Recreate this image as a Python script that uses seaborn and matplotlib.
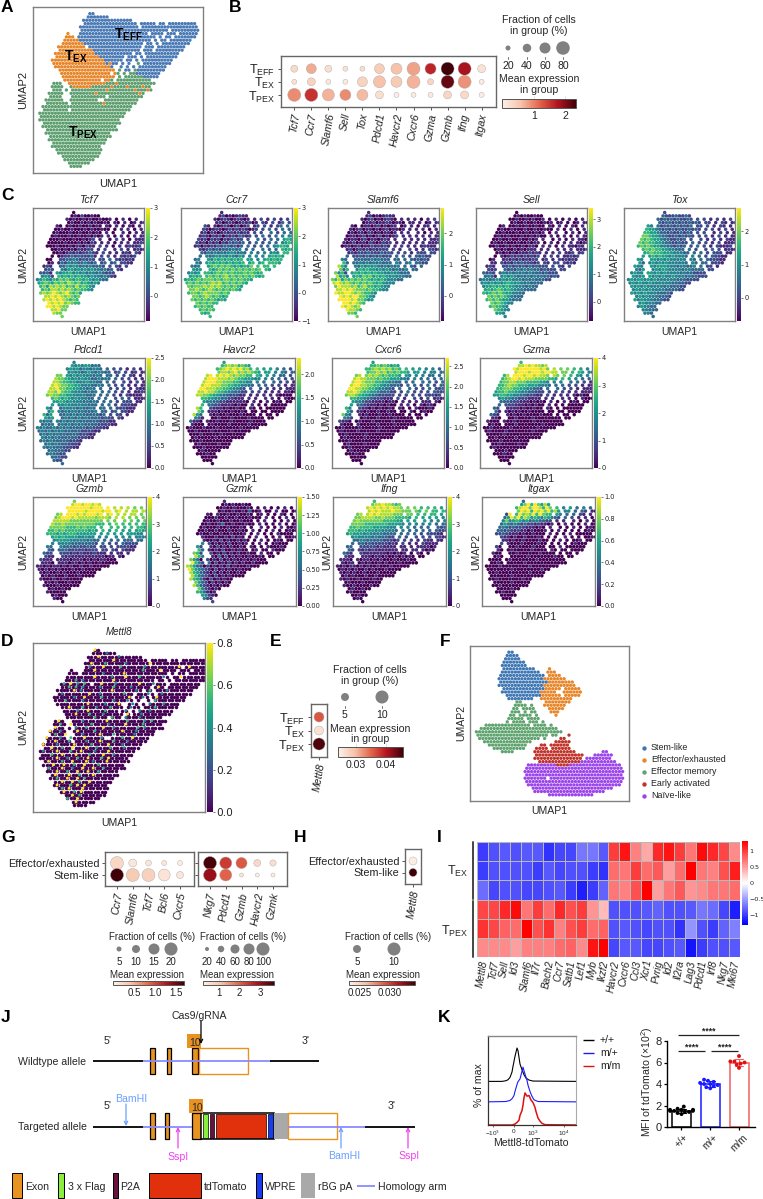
import numpy as np
import pandas as pd
import matplotlib
matplotlib.use("Agg")
import matplotlib.pyplot as plt
from matplotlib.colors import LinearSegmentedColormap, Normalize
from matplotlib.cm import ScalarMappable
from matplotlib.patches import Rectangle
import seaborn as sns

W, H = 763, 1199
sns.set_theme(style="white")
plt.rcParams["font.family"] = ["Liberation Sans", "DejaVu Sans"]
plt.rcParams["mathtext.fontset"] = "custom"
plt.rcParams["mathtext.rm"] = "Liberation Sans"
plt.rcParams["mathtext.it"] = "Liberation Sans:italic"
plt.rcParams["mathtext.bf"] = "Liberation Sans:bold"
plt.rcParams["axes.edgecolor"] = "#707070"

# ---------- embedding maps: each character is one binned group of cells ----------
CLUSTER_MAP = """
                BB
               BBBBBBB
              BBBBBBBBBBBBBBBB
              BBBBBBBBBBBBBBBBB BBBBB BB BBBBBBBBB
             BBBBBBBBBBBBBBBBBBB BBBBBBBBBBBBBBBBBB
             BBBBBBBBBBBBBBBBBBBBBBBBBBBB BBBBBBBBB
         O   BBBBBBBBBBBBBBBBBBBBBB BBBB BBB BBBBBB
        OOO BBBBBBBBBBBBBBBBBBBBBBBBB B BB BBBBBBB
        OOOOOBBBBBBBBBBBBBBBBBBBBBBB B BB BBBBBBB
       OOOOOOOBBBBBBBBBBBBBBBBBBB BB B BBBBBBBBB
      OOOOOOOOO BBBBBBBBBBBBBBBBB BBB BBBBBBBBB
      OOOOOOOOOOOBBBBBBBBBBBBBBB BBB BBBBBBBBB
     OOOOOOOOOOOOOBBBBBBBBBBBB BB BBBBBBBBBBB
     OOOOOOOOOOOOOOBBBBBBBB BBB B BBBBBBBBBB
    OOOOOOOOOOOOOOOOOBBBBBB BB B BBBBBBBBBB
    OOOOOOOOOOOOOOOOOBOBB B B  G BBBBBBBBB
     OOOOOOOOOOOOOOOOOOB  B B B BBBBBBBBB
      OOOOOOOOOOOOOOOOOO G BB GBBBBBBBBB
       OOOOOOOOOOOOOOOO OG G GGBBBBBBBB
       OOOOOOOOOOOOOOOOO G GGGGGGBBBBB
        OOOOOOOOOOOO OOG GGGGGGGGGGG
    GGG  OOOOOOOOOOOOGGGOGGGGGGGGGGGG
    GGGG  GOOOOOOGGGGGGOGGGGOGGGGOGG
    GGG G GGGGGGGGGGGOGGGGGGGGOGGGOG
   GGGGG  GGGGGGGGOGGGGGGGGGGGGGOG
   GGGG   GGGGGGGGGGG GGGGGGGGGGG
  GGGGGG  GGGGGGGGG  GGGGGGGGGGG
  GGGGGGG GGGGGGGGGGOGGGGGGGGGG
 GGGGGGGGGGGGGGGGGGGGGGGGGGGGG
 GGGGGGGG GGGGGGGGGGGGGGGGGGG
GGGGGGGGGGGGGGGGGGGGGGGGGGGG
GGGGGGGGGGGGGGGGGGGGGGGGGGG
GGGGGGGGGGGGGGGGGGGGGGGGGG
 GGGGGGGGGGGGGGGGGGGGGGGGG
 GGGGGGGGGGGGGGGGGGGGGGGG
  GGGGGGGGGGGGGGGGGGGGGGG
  GGGGGGGGGGGGGGGGGGGGG
   GGGGGGGGGGGGGGGGGGGG
   GGGGGGGGGGGGGGGGGGG
    GGGGGGGGGGGGGGGGG
    GGGGGGGGGGGGGGGG
     GGGGGGGGGGGGGGG
      GGGGGGGGGGGGGG
       GGGGGGGGGGGG
        GGGGGGGGGG
         GGGGGGG
          GGGG
""".strip("\n").split("\n")

METTL8_SPECKS = """
                9
                   4
                 9     4
                     9
               9   6     4      9
              4   9    6      4         9  9
                9             6    9
                  4     9
                9    4   9   6      4    9
          6 4        9
       6 9 4 6    9   4      9   4
        6 6 4    4   6    4       9
          9 4        9      4   6    4
      4       9  4      6      4   4
          4  9    6       9   4   9
       6    4        4   4       6
              9    4   9   4    4   4
        9   6   4   6     4      6
           4  9    6     4   4  4
          9   6   4      9   4
                6    6   4   4
     9      4      9     6    4 6
      6  9     6    4    9    6
    9     4  6    9  4      6 4
   9  4    9    6       9   4
    6  9    4    9   6     4
  9   4  6   9    4     6  9
    9   6    4   9   6   4
 9   4    9    6    9   4
   9  6  9   9  4   6   4
 4   9   6  9   4   9
   6  9   9   6   9  4
     9  4  6  9   6 9
  9   6  9   9 4   9
    9  9  6  9   6
  6   9  4  9  9  6
     9  6  9  9  6
    9   9  6   9
     6  9  9 6
      9  9 6  9
     9   6 9 9
      6 9   9
       9  6 9
         9 6
        6  9
          9
""".strip("\n").split("\n")

SUBSET_MAP = """

          BB
         BBBB
         BBBBB
        BBBBBBB
        BBBBBBBB
        BBBBBBBBBB    O
        BBBBBBBBBBBB  OOO
       BBBBBBBBBBBBBB OOOO
       BBBBBBBBBBBBBBOOOOOOO
       BBBBBBBBBBBBBBBOOOOOOOO
       BBBBBBBBBBBBBBOOOOOOOOOO
        BBBBBBBBBBBBBOOOOO OOOOO
        BBBBBBBBBBBBOOOOO  OOOOOO
         BBBBBBBBBBBOOOOOO OOOOO
          BBBBBBBB  OOOOOOOOOO
            GG       OOOOOOOO
            GGGG G   OOOOOOO
           GG GGGG    OOOOO
           GGG G GG    OOO
          GG GGGG G     O
          GGGGG GGGG
         G GGGG GGG G
   GGGGGGGGGGGGGG GGGG G
 GGGGGGGGGGGGGGGGGGGGGGGG
GGGGGGGGGGGGGGGGGGGGGGGGGGG
GGGGGGGGGGGGGGGGGGGGGG GG   R
 GGGGGGGGGGGGGGGGGGG G    RR
  GGGGGGGGGGGGGGG       RRRRR
    GGGGGGGGGGGG    RR RRRRRR
     GGGGGGGGGG   RRRR RRRRRR
        GGGG      RRRRRRRRRRRRR        PP
                  RRRRRRRRRRRRRRR   PPPPPP
                  RRRRRRRRRRRRRRR PPPPPPPP
                   RRRRRRRRRRRRRPPPPPPPPPPP
                PPPPPPPPPRRRRPPPPPPPPPPPPPPPP
               PPPPPPPPPPPPPPPPPPPPPPPPPPPPPP
               PPPPPPPPPPPPPPPPPPPPPPPPPPPPPPP
               PPPPPPPPPPPPPPPPPPPPPPPPPPPPPP
               PPPPPPP PPPPPPPPPPPPPPPPPPPPPPP
               PPPPPPPPPPPPPPPPPPPPPPPPPPPPPP
                PPPPPPPPPPPPPPPPPPPPPPPPPPPPP
                 PPPPPPPPPPPPPPPPPPPPPPPPP
                  PPPPPPPPPPPPPPPPPPPPPP
                      PPPPPPPPPPPPPP
""".strip("\n").split("\n")

TCF7 = """
           0
          010200100
         10100101001001 0 1 0 1
         0100101010010 10 1 01 1102
      10 01001001010 10 1 0 10 1 11
     00100100010100100 0 1 1 0 1 121
     010001001001010 1 0  1 0 1 1211
    0100010010010101 1 0 1 0 1 11211
    00010001001012 1  0 2 1 0 11121
   000001000101021 1 1 0 1 1 11211
   000100010110211 2 1 0 1 12112
    0010101021122 1 2  1 2 1 1211
     00101212122321 2 1 1 121 21
    0 012232322231 2 2 1 21212
   00  22334323232 22 3 212121
   01 132434334323 23 23 2211
  121  33545434343332 2 21 2
  232  4355454545443423 21
 3231 545564545344343222
 4542 656565655454434321
4565465767656656545433
5676576768767565454
 67587878676867654
 6768878787676654
 7878987897675
  88989878767
  89898987676
   9898978766
   9989877
    88977
     877
       7
""".strip("\n").split("\n")

CCR7 = """
           1
          120101211
         10121012101 1 2 1 2 1 2
         1201210121201 21 2 13 2 3445
      21 10121012012 12 2 1 23 3 45
     21012101212121012 2 3 2 3 3 456
     120210121212121 2 2  3 2 3 3566
    1210212021213212 2 3 2 3 4 45656
    21202120212312 2  3 2 3 3 56565
   212021202132323 2 3 2 3 3 45656
   120212132332313 3 2 3 3 45665
    2123232333434 3 3  3 3 3 6565
     32434343454343 4 3 4 454 66
    3 434545454354 4 4 4 56565
   34  54656565656 55 4 565656
   43 565656565656 56 56 6665
  434  56767676565657 6 66 6
  545  6567676767676767 65
 4545 665676767666767656
 5656 676767867676767656
565676777676776767665
6767676787867676765
 76777878787676765
 7787678767676765
 6776787777676
  77678767656
  76767676565
   7676766
   676766
    67676
     656
       6
""".strip("\n").split("\n")

SLAMF6 = """
           1
          120101211
         10120101210 1 1 1 0 1 2
         0112011210110 11 1 01 1111
      10 01101201011 01 1 0 11 1 11
     10120110101201101 1 1 1 0 1 101
     010110210101101 1 1  1 0 1 1111
    0110120101201012 1 1 1 1 1 11121
    10110120110121 1  1 1 1 1 11211
   101201102101212 1 1 1 1 1 11121
   011012011212121 1 2 1 1 12111
    1201212121222 2 1  2 1 1 2212
     12122232223232 2 2 1 222 22
    3 223232323222 3 3 2 32322
   43  33333434333 33 3 323232
   63 334343434333 43 34 3322
  864  43545454343434 3 32 3
  736  4656554545434334 33
 7462 565656565544544333
 8564 565767565654544433
7685767676765656544433
8987876767676565444
 79888786786656544
 8898987776766544
 9889987876654
  98989977654
  99998977645
   9989876
   989878
    98876
     776
       7
""".strip("\n").split("\n")

SELL = """
           0
          010100100
         00100101001 0 1 0 1 0 1
         0100100100101 01 0 01 1012
      01 00100100100 10 1 0 10 1 11
     01001000100100100 1 0 1 0 1 102
     001000100100101 0 1  0 1 0 1101
    0100100010010100 1 0 1 0 1 10112
    00100100100101 1  0 1 0 1 11021
   010010001001011 0 1 0 1 1 10112
   001001010010110 1 1 0 1 11021
    0101001010111 1 1  1 1 1 1112
     01010101112121 1 1 2 112 12
    0 101212121212 1 2 1 11212
   01  12121212122 12 1 212121
   11 212132322212 21 22 2121
  121  22323232323222 2 21 2
  212  3232434343323222 22
 3232 343434343433323222
 3431 454543434343433232
3443454545444343433322
4545454565454343333
 45565656554443433
 5656765654443333
 6567676554433
  76767654333
  67676554343
   7676544
   676654
    76544
     554
       4
""".strip("\n").split("\n")

TOX = """
           2
          322232232
         32323232232 2 2 1 2 1 2
         3233232323232 22 1 21 1211
      54 32323232323 22 2 1 21 1 21
     65543232323223232 2 2 1 2 1 112
     665543323223232 2 2  1 2 1 1211
    7765543322323232 2 2 1 2 1 11211
    76765543322323 2  2 1 2 1 21111
   767665543322322 3 2 2 1 2 11121
   676765544332323 2 3 2 1 21112
    6767665544333 3 2  2 3 2 1211
     56766655544433 3 3 2 222 11
    5 565655454443 4 3 2 32211
   54  55454544444 43 3 322211
   53 454545444443 43 33 2221
  544  54555444344334 3 22 1
  435  4545544443443333 22
 4544 554545444434332222
 5445 545454454443433222
4545545454444443332222
4545445444444333322
 54545444443433322
 4545454444333322
 5454544433332
  45454443332
  54544433322
   4544433
   454433
    44333
     443
       3
""".strip("\n").split("\n")

PDCD1 = """
           4
          545455343
         45453443443 3 2 2 1 2 1
         4544345434433 23 2 12 1211
      77 54545444343 33 2 2 21 1 21
     87765454544334343 3 2 2 1 1 212
     887665544454433 3 2  2 1 2 1111
    8987766554443343 3 2 2 1 1 11211
    88977665544343 3  2 2 2 1 21111
   887976654443434 3 3 2 2 1 11211
   787766554444333 3 3 2 1 21111
    6765654544433 3 3  2 3 2 1111
     55654544434343 3 3 2 222 11
    5 445444444333 3 3 2 22211
   53  34444343343 33 3 222111
   46 434344343334 33 23 2211
  635  33434343333323 2 22 1
  545  3434343433332322 21
 4343 434343433333322211
 3434 343434343333222211
4343343434333332322211
3434343433333222211
 34343433333322211
 4343433333322211
 3434333332221
  34343332221
  43433322211
   3433322
   343322
    33322
     322
       3
""".strip("\n").split("\n")

HAVCR2 = """
           5
          678786765
         67898989786 6 5 5 4 3 2
         7887897878765 55 4 43 3221
      89 89898787766 65 5 4 33 2 21
     89998887876655544 4 3 3 2 2 111
     899988777665544 4 3  3 2 2 1111
    8998887766554433 3 3 2 2 1 11111
    99888776654432 3  2 2 1 1 11100
   889887665443322 2 2 1 1 1 11000
   887765543322211 1 1 1 1 10000
    6655443322111 1 1  1 1 0 1000
     54433221111110 1 0 1 010 00
    6 332211110100 1 0 0 00000
   86  21110100100 10 0 000000
   75 111010010010 00 00 0000
  853  10100100010000 0 00 0
  431  0010001000010000 00
 3110 100100010000010000
 1000 010000100000100000
0100010001000000100000
0010000100000100000
 00010000010000000
 0100000100000000
 0001000000000
  01000001000
  00010000000
   0100000
   000100
    00000
     000
       0
""".strip("\n").split("\n")

CXCR6 = """
           5
          667676565
         66787878676 6 5 5 4 4 3
         6778786767665 55 4 44 3433
      78 78787676665 54 4 4 33 3 33
     89887776766555443 4 3 3 3 3 323
     899877766554433 3 3  3 3 2 3322
    8998877665443332 3 3 2 3 2 32232
    99887766544332 3  3 2 2 3 22322
   889876655433322 2 3 2 2 2 32222
   788765543322222 2 2 2 2 22212
    6655433222111 2 1  2 1 2 1211
     54432211110110 1 1 1 111 10
    5 332111010100 1 1 0 10110
   64  21101010010 10 0 100010
   53 110100100100 00 10 0100
  743  10100010010000 0 00 0
  432  0100010000100000 00
 2110 010001000001000000
 1000 100000100001000000
0010000100000100000000
0100001000001000000
 00100000100000000
 0100000100000000
 0001000000000
  01000010000
  00100000000
   0100000
   000100
    00000
     000
       0
""".strip("\n").split("\n")

GZMA = """
           6
          889898878
         98999999897 8 7 7 6 5 4
         8999899989988 77 6 65 4332
      68 99989989887 87 7 6 54 4 32
     67899898887777665 6 5 4 3 3 221
     677887776666554 4 4  3 3 2 1211
    6678776665554443 3 3 2 2 1 11111
    66777665544332 3  3 2 2 1 11110
   566766554433222 2 2 2 1 1 11100
   556655443322211 2 1 1 1 10100
    4544332221111 1 1  1 1 0 1000
     33322211101010 1 0 1 010 00
    3 222111010100 1 0 0 00000
   32  11110100100 10 0 000000
   31 101010010000 00 00 0000
  321  10100100001000 0 00 0
  110  0010000100000000 00
 1000 100100000100000000
 0100 000100000001000000
0010000010000000100000
0100001000000010000
 00000100000000000
 0010000010000000
 0000100000000
  00100000100
  01000000000
   0001000
   000100
    00000
     000
       0
""".strip("\n").split("\n")

GZMB = """
           7
          899899898
         99999998999 9 8 8 8 7 7
         9999989999899 89 8 88 8877
      78 99989899989 89 8 8 88 7 77
     78999898888878887 8 8 7 7 7 777
     888887777777777 7 7  7 7 6 7766
    8778777777777666 6 7 6 6 6 66666
    77777666767666 6  6 6 6 6 66565
   667676666666565 6 5 6 5 5 56555
   666565666555555 5 5 5 5 55544
    5656555544544 4 4  4 4 4 4443
     45555444443433 3 3 3 333 33
    4 444433333332 3 2 2 32222
   43  43332322322 22 2 222211
   32 333222221222 22 21 2111
  322  22212121112111 1 11 1
  211  2121111111111011 10
 2111 111101110101011000
 1110 111011010100100000
1101011010100100100000
1010101000100100000
 10100101000100000
 0101000100010000
 1000100100000
  01010001000
  10001000000
   0100100
   100000
    01000
     100
       0
""".strip("\n").split("\n")

GZMK = """
           1
          010100100
         00100100010 0 1 0 0 1 0
         0100100103001 00 1 00 0100
      10 10010010010 01 0 0 10 0 10
     00010010010001000 1 0 0 1 0 010
     010010001001000 0 1  0 0 1 0001
    0010013001000100 1 0 0 1 0 01000
    01000100100010 0  1 0 0 1 00100
   001001000100100 1 0 0 1 0 01000
   010010010010001 0 1 0 0 10000
    1000100102010 0 1  0 0 1 0010
     10010201001010 0 1 0 010 00
    4 201010200101 0 1 0 01000
   52  10201010010 10 0 100010
   63 101020010100 01 00 1000
  762  20102010100100 1 00 0
  864  1030201010010010 00
 7530 201020101001001000
 9642 302010201010010000
8753202010102010001000
9754321020101001000
 86532102010100100
 8643210201010000
 8653102010100
  75320201010
  86321010100
   7421010
   653101
    54210
     421
       2
""".strip("\n").split("\n")

IFNG = """
           6
          788988767
         89898989887 7 7 6 6 6 5
         8989888988777 76 7 66 6655
      78 89898888777 77 6 6 66 5 54
     77888877877766665 6 5 5 5 4 443
     787777777666655 5 5  5 4 4 4433
    7777666666655554 4 4 4 4 3 33322
    66766665555444 4 4 3 3 3  32322
   666565554544443 4 3 3 3 3 32222
   565554544443333 3 3 3 2 22211
    4544443433322 3 2  2 2 2 2211
     33443333322212 2 2 1 211 11
    3 332322222121 2 1 1 21111
   33  22222121111 11 1 111101
   32 212121111111 11 11 1010
  321  21111111010101 0 10 0
  211  1110110100101010 00
 1110 101101010001000100
 1011 010100101000100000
1010110101001000100000
0101010010100010000
 10101001000100000
 0101000100100000
 1010010000100
  01000100000
  10010000100
   0100100
   010000
    00100
     010
       0
""".strip("\n").split("\n")

ITGAX = """
           3
          579697585
         68997998697 6 4 5 3 4 3
         7989698979685 44 3 32 1012
      29 69787969766 54 3 3 21 1 10
     35979687565465432 3 2 1 1 0 101
     474565453443322 1 1  1 0 1 0100
    3543432322121101 0 1 0 0 1 00101
    34323222111010 1  0 0 1 0 01000
   332321211010001 0 1 0 0 0 01000
   223211101001000 1 0 0 1 00000
    2110100100010 0 0  1 0 0 0010
     11010010000100 0 1 0 001 00
    2 100010000100 0 0 0 01000
   20  00100001000 00 1 000000
   10 010000010000 10 00 0000
  100  00100000010000 0 00 0
  010  0000010000000100 00
 0000 010000000100000000
 0010 000001000000000000
0000100000000100000000
0000000100000000100
 00100000000010000
 0000001000000000
 0010000000100
  00000100000
  00100000000
   0000100
   001000
    00000
     000
       0
""".strip("\n").split("\n")

# ---------- feature panels: title, map, colour range, colourbar ticks ----------
ROW1 = [("Tcf7", TCF7, -0.86, 3.0, [0, 1, 2, 3], ["0", "1", "2", "3"]),
        ("Ccr7", CCR7, -1.0, 3.0, [-1, 0, 1, 2, 3], ["\u22121", "0", "1", "2", "3"]),
        ("Slamf6", SLAMF6, -0.8, 2.8, [0, 1, 2], ["0", "1", "2"]),
        ("Sell", SELL, -0.7, 3.4, [0, 1, 2, 3], ["0", "1", "2", "3"]),
        ("Tox", TOX, -0.7, 2.7, [0, 1, 2], ["0", "1", "2"])]
ROW2 = [("Pdcd1", PDCD1, 0, 2.5, [0, .5, 1, 1.5, 2, 2.5], ["0.0", "0.5", "1.0", "1.5", "2.0", "2.5"]),
        ("Havcr2", HAVCR2, 0, 2.35, [0, .5, 1, 1.5, 2], ["0.0", "0.5", "1.0", "1.5", "2.0"]),
        ("Cxcr6", CXCR6, 0, 2.7, [0, .5, 1, 1.5, 2, 2.5], ["0.0", "0.5", "1.0", "1.5", "2.0", "2.5"]),
        ("Gzma", GZMA, 0, 4, [0, 1, 2, 3, 4], ["0", "1", "2", "3", "4"])]
ROW3 = [("Gzmb", GZMB, 0, 4, [0, 1, 2, 3, 4], ["0", "1", "2", "3", "4"]),
        ("Gzmk", GZMK, 0, 1.5, [0, .25, .5, .75, 1, 1.25, 1.5],
         ["0.00", "0.25", "0.50", "0.75", "1.00", "1.25", "1.50"]),
        ("Ifng", IFNG, 0, 4, [0, 1, 2, 3, 4], ["0", "1", "2", "3", "4"]),
        ("Itgax", ITGAX, 0, 1, [0, .2, .4, .6, .8, 1], ["0.0", "0.2", "0.4", "0.6", "0.8", "1.0"])]

# ---------- dot plots ----------
B_GENES = ["Tcf7", "Ccr7", "Slamf6", "Sell", "Tox", "Pdcd1", "Havcr2", "Cxcr6", "Gzma", "Gzmb", "Ifng", "Itgax"]
T_GROUPS = [r"T$_{\mathrm{EFF}}$", r"T$_{\mathrm{EX}}$", r"T$_{\mathrm{PEX}}$"]
B_FRAC = [[30, 51, 30, 16, 20, 51, 60, 80, 60, 80, 80, 36],
          [16, 36, 16, 12, 51, 70, 60, 80, 25, 80, 80, 13],
          [80, 80, 70, 60, 60, 36, 10, 16, 13, 36, 36, 10]]
B_MEAN = [[.3, .75, .25, .2, .25, .45, .6, .8, 1.65, 2.35, 1.8, .2],
          [.2, .4, .15, .1, .4, .6, .5, .7, .35, 2.15, .9, .1],
          [.95, 1.55, .7, .95, .65, .25, .05, .1, .1, .35, .3, .05]]
E_FRAC = [[6.7], [5.8], [8.9]]
E_MEAN = [[.036], [.026], [.045]]
STEM_GROUPS = ["Effector/exhausted", "Stem-like"]
G1_GENES = ["Ccr7", "Slamf6", "Tcf7", "Bcl6", "Cxcr5"]
G1_FRAC = [[20, 9, 6, 4, 2.5], [20, 20, 20, 17, 7.5]]
G1_MEAN = [[.25, .1, .1, .1, .05], [1.69, .35, .3, .12, .1]]
G2_GENES = ["Nkg7", "Pdcd1", "Gzmb", "Havcr2", "Gzmk"]
G2_FRAC = [[100, 87, 76, 37, 32], [100, 87, 20, 20, 16]]
G2_MEAN = [[3.6, 2.4, 2.1, .7, .6], [3.0, 2.0, .5, .3, .3]]
H_FRAC = [[3.1], [5.0]]
H_MEAN = [[.0235], [.0343]]

# ---------- heat map ----------
HEAT_GENES = ["Mettl8", "Tcf7", "Sell", "Id3", "Slamf6", "Il7r", "Bach2", "Ccr7", "Satb1", "Lef1", "Myb", "Ikzf2",
              "Havcr2", "Cxcr6", "Ccl3", "Xcr1", "Pvrig", "Id2", "Il2ra", "Lag3", "Pdcd1", "Irf8", "Nkg7", "Mki67"]
HEAT_VALUES = [
    [-1.0, -.9, -.85, -.9, -.85, -.85, -1.05, -.95, -.95, -.7, -.7, -.85, 1.0, 1.2, .65, .45, 1.1, 1.2, 1.0, .7, 1.25, 1.1, .95, .6],
    [-1.0, -.9, -.9, -.9, -.9, -1.0, -.85, -.95, -.9, -.9, -1.0, -1.05, .75, .7, 1.0, .75, .85, .5, .75, 1.3, .7, .65, .9, 1.15],
    [-.75, -.95, -.9, -.9, -.95, -.95, -.9, -.85, -1.0, -1.15, -1.0, -.8, .7, .65, .9, 1.3, .5, .7, .85, .55, .6, .7, .7, .75],
    [.95, .95, 1.1, 1.25, .7, 1.0, .75, 1.1, .9, 1.0, .55, .35, -.9, -.9, -.9, -.85, -.8, -.9, -.9, -.85, -.7, -.75, -.95, -1.15],
    [1.05, .95, .8, .75, 1.3, .9, 1.05, .65, .9, 1.0, .75, .8, -.9, -.85, -.9, -.95, -.9, -.9, -1.05, -.55, -.9, -1.0, -.8, -.65],
    [.6, .6, .6, .5, .65, .65, .65, .75, .8, .6, 1.2, 1.35, -.95, -.85, -.85, -.95, -.95, -.9, -.85, -1.2, -1.0, -.9, -.9, -.85],
]

# ---------- reporter expression ----------
HIST_BLACK_X = [0, 14, 18, 20, 22, 24, 25, 26, 27, 29, 30, 31, 32, 34, 36, 38, 41, 45, 88]
HIST_BLACK_Y = [0, 0, 2, 5, 12, 28, 45, 60, 75, 100, 92, 72, 52, 35, 20, 10, 4, 1, 0]
HIST_BLUE_X = [0, 18, 22, 24, 26, 27, 29, 30, 32, 34, 35, 37, 39, 40, 42, 44, 46, 50, 88]
HIST_BLUE_Y = [0, 1, 4, 9, 18, 30, 50, 58, 66, 88, 100, 80, 62, 48, 30, 16, 6, 1, 0]
HIST_RED_X = [0, 24, 27, 29, 31, 32, 34, 35, 36, 37, 39, 41, 43, 45, 47, 48, 50, 52, 54, 57, 88]
HIST_RED_Y = [0, 0, 3, 8, 15, 30, 45, 62, 85, 100, 90, 92, 78, 70, 55, 42, 22, 12, 5, 1, 0]
MFI_WT = [1.5, 1.4, 1.6, 1.9, 1.3, 1.5, 1.7, 1.2, 1.6, 1.4, 1.5, 1.6]
MFI_HET = [4.0, 4.1, 3.9, 4.4, 4.2, 3.8, 3.7, 4.3, 4.0, 3.6]
MFI_HOM = [6.1, 6.1, 6.6, 5.9, 6.0, 5.8, 5.5]
GENOTYPES = ["+/+", "m/+", "m/m"]

DOT_CMAP = LinearSegmentedColormap.from_list(
    "dots", ["#fdf1e8", "#f6c4ab", "#e4674c", "#b3141f", "#3f0008"])
CLUSTER_COLORS = {"B": "#4a7ab5", "O": "#e8862a", "G": "#5d9f6f"}
SUBSET_COLORS = {"B": "#3f77b4", "O": "#e8862a", "G": "#5fa36f", "R": "#c0342c", "P": "#9b45ea"}

fig = plt.figure(figsize=(W / 100, H / 100), dpi=100)
canvas = fig.add_axes([0, 0, 1, 1], zorder=10)
canvas.set_xlim(0, W)
canvas.set_ylim(H, 0)
canvas.axis("off")
canvas.patch.set_alpha(0)


def panel(x0, y0, x1, y1):
    return fig.add_axes([x0 / W, 1 - y1 / H, (x1 - x0) / W, (y1 - y0) / H])


def txt(x, y, s, size=7.6, ha="center", va="center", **kw):
    canvas.text(x, y, s, fontsize=size, ha=ha, va=va, **kw)


def cells(rows):
    recs = [(c + 0.5 * (r % 2), r, ch) for r, row in enumerate(rows) for c, ch in enumerate(row) if ch != " "]
    return pd.DataFrame(recs, columns=["x", "y", "v"])


def embed_frame(ax, nrows, ncols, margin=0.04):
    mx = margin / (1 - 2 * margin) * (ncols - 1)
    my = margin / (1 - 2 * margin) * (nrows - 1)
    ax.set_xlim(-mx, ncols - 1 + mx)
    ax.set_ylim(nrows - 1 + my, -my)
    ax.set(xticks=[], yticks=[], xlabel="", ylabel="")
    for s in ax.spines.values():
        s.set_color("#808080")
        s.set_linewidth(1.0)


def cluster_panel(box, rows, colors, dot):
    ax = panel(*box)
    df = cells(rows)
    sns.scatterplot(data=df, x="x", y="y", hue="v", palette=colors, s=(0.72 * dot) ** 2,
                    linewidth=0, legend=False, ax=ax)
    embed_frame(ax, len(rows), max(len(r) for r in rows))
    return ax


def vbar(box, vmin, vmax, ticks, labels, size=5.2):
    cax = panel(*box)
    sm = ScalarMappable(Normalize(vmin, vmax), "viridis")
    fig.colorbar(sm, cax=cax)
    cax.set_yticks(ticks, labels=labels, fontfamily="DejaVu Sans", fontsize=size)
    cax.tick_params(axis="y", length=1.5, width=0.5, pad=1.2, color="#444444", labelcolor="#222222", left=False, right=True)
    cax.minorticks_off()
    for s in cax.spines.values():
        s.set_visible(False)


def feature_panel(x0, y0, x1, y1, gap, title, rows, vmin, vmax, ticks, labels):
    ax = panel(x0, y0, x1, y1)
    df = cells(rows)
    df["expr"] = vmin + df["v"].astype(int) / 9 * (vmax - vmin)
    sns.scatterplot(data=df, x="x", y="y", hue="expr", palette="viridis", hue_norm=(vmin, vmax),
                    s=(0.72 * 3.5) ** 2, linewidth=0, legend=False, ax=ax)
    embed_frame(ax, 32, 32)
    txt((x0 + x1) / 2, y0 - 8, title, style="italic")
    txt((x0 + x1) / 2, y1 + 11, "UMAP1")
    txt(x0 - gap, (y0 + y1) / 2, "UMAP2", rotation=90)
    vbar((x1 + 1.5, y0, x1 + 5.5, y1), vmin, vmax, ticks, labels, size=4.8)


def dotplot(box, first, pitch, genes, groups, frac, mean, vrange, frange, drange, show_groups=True, group_size=7.8):
    x0, y0, x1, y1 = box
    ax = panel(x0, y0, x1, y1)
    recs = [(j, i, frac[i][j], mean[i][j]) for i in range(len(groups)) for j in range(len(genes))]
    df = pd.DataFrame(recs, columns=["gene", "group", "frac", "mean"])
    s_lo, s_hi = [(0.72 * d) ** 2 for d in drange]
    sns.scatterplot(data=df, x="gene", y="group", hue="mean", size="frac", palette=DOT_CMAP, hue_norm=vrange,
                    size_norm=frange, sizes=(s_lo, s_hi), edgecolor="#aaaaaa", linewidth=0.3, legend=False, ax=ax)
    ax.set_xlim((x0 - first[0]) / pitch[0], (x1 - first[0]) / pitch[0])
    ax.set_ylim((y1 - first[1]) / pitch[1], (y0 - first[1]) / pitch[1])
    ax.set_xticks(range(len(genes)), labels=genes, rotation=80, style="italic", fontsize=7.6)
    ax.set_yticks(range(len(groups)))
    if show_groups:
        ax.set_yticklabels(groups, fontsize=group_size)
    else:
        ax.set_yticklabels([])
    ax.set(xlabel="", ylabel="")
    ax.tick_params(axis="both", bottom=True, left=True, length=2.5, width=0.7, pad=1.5, color="#555555", labelcolor="#222222")
    for s in ax.spines.values():
        s.set_color("#666666")
        s.set_linewidth(1.0)
    return ax


def size_legend(xs, y, diams, labels, label_y, size=7.6, ticks=False):
    sns.scatterplot(x=xs, y=[y] * len(xs), size=diams, sizes={d: (0.72 * d) ** 2 for d in diams},
                    color="#808080", linewidth=0, legend=False, ax=canvas)
    for x, lab in zip(xs, labels):
        txt(x, label_y, lab, size=size, color="#222222")
        if ticks:
            canvas.plot([x, x], [label_y - 9, label_y - 7], color="#555555", lw=0.6)


def hbar(box, vmin, vmax, ticks, labels, size=7.0):
    cax = panel(*box)
    fig.colorbar(ScalarMappable(Normalize(vmin, vmax), DOT_CMAP), cax=cax, orientation="horizontal")
    cax.set_xticks(ticks, labels=labels, fontsize=size)
    cax.minorticks_off()
    cax.tick_params(axis="x", length=box[3] - box[1], width=0.6, direction="in", color="#dddddd", pad=2, labelcolor="#222222")
    for s in cax.spines.values():
        s.set_color("#555555")
        s.set_linewidth(0.7)


# ---------- A: cluster embedding ----------
cluster_panel((33, 7, 203, 173), CLUSTER_MAP, CLUSTER_COLORS, 3.3)
txt(118, 184, "UMAP1", size=8)
txt(23, 90, "UMAP2", size=8, rotation=90)
for x, y, lab in [(128, 35, r"$\mathbf{T_{EFF}}$"), (76, 57, r"$\mathbf{T_{EX}}$"), (83, 133, r"$\mathbf{T_{PEX}}$")]:
    txt(x, y, lab, size=10, color="black")

# ---------- B: marker dot plot ----------
dotplot((281, 56, 496, 107), (294.3, 68.7), (17.03, 13.1), B_GENES, T_GROUPS, B_FRAC, B_MEAN,
        (0, 2.35), (20, 80), (5, 13), group_size=9)
txt(539, 25.5, "Fraction of cells\nin group (%)", linespacing=1.05)
size_legend([508, 527, 545, 563], 48, [5, 8.5, 11, 13.5], ["20", "40", "60", "80"], 66, ticks=True)
txt(539, 84.5, "Mean expression\nin group", linespacing=1.05)
hbar((502, 99, 576, 108), -0.03, 2.35, [1, 2], ["1", "2"], size=7.6)

# ---------- C: gene expression embeddings ----------
for i, (x0, spec) in enumerate(zip([33, 181, 328, 476, 624], ROW1)):
    feature_panel(x0, 208, x0 + 111, 321, 10, *spec)
for i, (x0, spec) in enumerate(zip([33, 183, 332, 480], ROW2)):
    feature_panel(x0, 358, x0 + 112, 468, 10 if i == 0 else 6, *spec)
for i, (x0, spec) in enumerate(zip([33, 183, 333, 482], ROW3)):
    feature_panel(x0, 497, x0 + 113, 606, 10 if i == 0 else 6, *spec)

# ---------- D: Mettl8 embedding ----------
axD = panel(33, 643, 205, 812)
base = cells(CLUSTER_MAP)
specks = cells(METTL8_SPECKS)
specks["expr"] = specks["v"].astype(int) / 9 * 0.8
sns.scatterplot(data=base, x="x", y="y", color="#440154", s=(0.72 * 3.5) ** 2, linewidth=0, legend=False, ax=axD)
sns.scatterplot(data=specks, x="x", y="y", hue="expr", palette="viridis", hue_norm=(0, 0.8),
                s=(0.72 * 2.8) ** 2, linewidth=0, legend=False, ax=axD)
embed_frame(axD, len(CLUSTER_MAP), 47)
txt(119, 632, "Mettl8", style="italic", size=7)
txt(119, 823, "UMAP1", size=7.6)
txt(23, 727, "UMAP2", size=7.6, rotation=90)
vbar((207, 643, 213, 812), 0, 0.8, [0, .2, .4, .6, .8], ["0.0", "0.2", "0.4", "0.6", "0.8"], size=7.6)

# ---------- E: Mettl8 dot plot ----------
dotplot((311, 704, 327, 757), (319, 717), (1, 13.5), ["Mettl8"], T_GROUPS, E_FRAC, E_MEAN,
        (.024, .0457), (5, 10), (8, 13), group_size=9)
txt(370, 675.5, "Fraction of cells\nin group (%)", linespacing=1.05)
size_legend([345, 382], 697, [8, 13], ["5", "10"], 715, ticks=True)
txt(370, 734, "Mean expression\nin group", linespacing=1.05)
hbar((338, 747, 403, 757), .024, .0457, [.03, .04], ["0.03", "0.04"], size=7.6)

# ---------- F: lymph node subsets ----------
cluster_panel((470, 646, 629, 801), SUBSET_MAP, SUBSET_COLORS, 3.3)
txt(549, 811, "UMAP1", size=7.6)
txt(461, 723, "UMAP2", size=7.6, rotation=90)
SUBSET_NAMES = ["Stem-like", "Effector/exhausted", "Effector memory", "Early activated", "Na\u00efve-like"]
for y, name, col in zip([748, 760, 772, 784, 796], SUBSET_NAMES, ["B", "O", "G", "R", "P"]):
    canvas.scatter([644], [y], s=10, color=SUBSET_COLORS[col], linewidth=0)
    txt(651, y, name, size=6.4, ha="left", color="#222222")

# ---------- G: subset dot plots ----------
dotplot((105, 852, 194, 886), (117, 863), (15.75, 12), G1_GENES, STEM_GROUPS, G1_FRAC, G1_MEAN,
        (0, 1.69), (5, 20), (5, 13))
dotplot((198, 852, 287, 886), (210, 863), (15.75, 12), G2_GENES, STEM_GROUPS, G2_FRAC, G2_MEAN,
        (.22, 3.68), (20, 100), (4, 13), show_groups=False)
txt(152, 937, "Fraction of cells (%)", size=7)
size_legend([119, 136, 154, 171], 949, [5, 8, 11, 13], ["5", "10", "15", "20"], 962, size=7)
txt(147, 975, "Mean expression", size=7)
hbar((113, 981, 184, 985), 0, 1.69, [.5, 1, 1.5], ["0.5", "1.0", "1.5"])
txt(243, 937, "Fraction of cells (%)", size=7)
size_legend([207, 221, 235, 249, 263], 949, [4, 6.5, 9, 11, 13], ["20", "40", "60", "80", "100"], 962, size=7)
txt(237, 975, "Mean expression", size=7)
hbar((203, 981, 274, 985), .22, 3.68, [1, 2, 3], ["1", "2", "3"])

# ---------- H: Mettl8 in subsets ----------
dotplot((405, 849, 421, 884), (413, 861), (1, 11.5), ["Mettl8"], STEM_GROUPS, H_FRAC, H_MEAN,
        (.0233, .0343), (5, 10), (8, 13))
txt(388, 937, "Fraction of cells (%)", size=7)
size_legend([357, 394], 949, [8, 13], ["5", "10"], 962, size=7)
txt(383, 975, "Mean expression", size=7)
hbar((349, 981, 415, 985), .0233, .0343, [.025, .03], ["0.025", "0.030"])

# ---------- I: differential expression heat map ----------
axI = panel(477, 842, 740, 957)
caxI = panel(742, 841, 748, 925)
sns.heatmap(pd.DataFrame(HEAT_VALUES, columns=HEAT_GENES), cmap="bwr", vmin=-1.31, vmax=1.31, linewidths=0.5,
            linecolor="#b8b8b8", ax=axI, cbar_ax=caxI, yticklabels=False, xticklabels=True)
axI.set_xticklabels(HEAT_GENES, rotation=80, style="italic", fontsize=7.2, color="#222222")
axI.tick_params(axis="x", length=0, pad=2)
caxI.set_yticks([-1, -.5, 0, .5, 1], labels=["\u22121", "\u22120.5", "0", "0.5", "1"], fontsize=4.6, fontfamily="DejaVu Sans")
caxI.tick_params(axis="y", length=0, pad=1, labelcolor="#222222")
canvas.plot([473, 473], [842, 899], color="#444444", lw=1.4)
canvas.plot([473, 473], [901, 957], color="#444444", lw=1.4)
txt(468, 871, r"T$_{\mathrm{EX}}$", size=9, ha="right")
txt(468, 931, r"T$_{\mathrm{PEX}}$", size=9, ha="right")


# ---------- J: knock-in allele schematic ----------
def rect(x0, y0, x1, y1, fc, ec="none", lw=0.0, z=3):
    canvas.add_patch(Rectangle((x0, y0), x1 - x0, y1 - y0, fc=fc, ec=ec, lw=lw, zorder=z))


def hline(x0, x1, y, color, lw=1.3, z=2):
    canvas.plot([x0, x1], [y, y], color=color, lw=lw, zorder=z, solid_capstyle="butt")


def pointer(x, y0, y1, color):
    canvas.annotate("", xy=(x, y1), xytext=(x, y0),
                    arrowprops=dict(arrowstyle="->", color=color, lw=0.9, shrinkA=0, shrinkB=0, mutation_scale=6), zorder=6)


EXON, HOMOLOGY, BAM, SSP = "#e8921f", "#8a8aff", "#6aa0ff", "#f040f0"
hline(93, 143, 1061, "black"); hline(270, 319, 1061, "black")
for a, b in [(150, 155), (167, 171), (192, 198)]:
    rect(a, 1048, b, 1074, EXON, "black", 0.9)
rect(199, 1048, 248, 1074, "white", EXON, 1.0)
hline(143, 270, 1061, HOMOLOGY, z=4)
rect(187, 1034, 201, 1048, EXON)
txt(195, 1043, "10", size=7.6, zorder=5)
txt(199, 1016, "Cas9/gRNA", size=7.6)
pointer(201, 1021, 1044, "black")
txt(108, 1041, "5'", size=7.6)
txt(306, 1041, "3'", size=7.6)
txt(52, 1062, "Wildtype allele", size=7.6)

hline(93, 143, 1127, "black"); hline(365, 415, 1127, "black"); hline(143, 192, 1127, HOMOLOGY, z=4)
for a, b in [(150, 155), (165, 169)]:
    rect(a, 1113, b, 1139, EXON, "black", 0.9)
rect(192, 1113, 201, 1139, EXON, "black", 0.9)
rect(201, 1113, 274, 1139, "white", "black", 1.1)
rect(203, 1114, 208, 1138, "#8aee3c", "black", 0.5)
rect(210, 1114, 214, 1138, "#6b1040", "black", 0.5)
rect(216, 1114, 266, 1138, "#e0300c", "black", 0.5)
rect(268, 1114, 273, 1138, "#1a3cf0", "black", 0.5)
rect(274, 1113, 288, 1139, "#a9a9a9")
rect(288, 1113, 337, 1139, "white", EXON, 1.0)
hline(288, 365, 1127, HOMOLOGY, z=4)
rect(189, 1099, 203, 1113, EXON)
txt(197, 1108, "10", size=7.6, zorder=5)
txt(108, 1106, "5'", size=7.6)
txt(392, 1106, "3'", size=7.6)
txt(52, 1127, "Targeted allele", size=7.6)
txt(131, 1099, "BamHI", size=7.6, color=BAM)
pointer(126, 1104, 1126, BAM)
txt(178, 1157, "SspI", size=7.6, color=SSP)
pointer(178, 1148, 1127, SSP)
txt(344, 1156, "BamHI", size=7.6, color=BAM)
pointer(341, 1148, 1127, BAM)
txt(409, 1156, "SspI", size=7.6, color=SSP)
pointer(408, 1148, 1127, SSP)

rect(12, 1173, 22, 1198, EXON, "black", 0.7)
txt(25, 1187, "Exon", size=7.6, ha="left")
rect(58, 1173, 64, 1198, "#8aee3c", "black", 0.7)
txt(68, 1187, "3 x Flag", size=7.6, ha="left")
rect(113, 1173, 118, 1198, "#6b1040", "black", 0.7)
txt(120, 1187, "P2A", size=7.6, ha="left")
rect(149, 1173, 201, 1198, "#e0300c", "black", 0.7)
txt(204, 1187, "tdTomato", size=7.6, ha="left")
rect(256, 1173, 262, 1198, "#1a3cf0", "black", 0.7)
txt(265, 1187, "WPRE", size=7.6, ha="left")
rect(301, 1173, 315, 1198, "#a9a9a9")
txt(318, 1187, "rBG pA", size=7.6, ha="left")
hline(357, 375, 1186, HOMOLOGY)
txt(378, 1187, "Homology arm", size=7.6, ha="left")

# ---------- K: reporter histograms ----------
axH = panel(488, 1036, 576, 1125)
for xs, ys, base_y, height, col, lw in [(HIST_BLACK_X, HIST_BLACK_Y, 49, 37.5, "black", 0.8),
                                        (HIST_BLUE_X, HIST_BLUE_Y, 26, 39, "#1a1aff", 0.8),
                                        (HIST_RED_X, HIST_RED_Y, 0, 36, "#e01010", 1.1)]:
    sns.lineplot(x=xs, y=np.array(ys) / 100 * height + base_y, color=col, lw=lw, estimator=None, sort=False, ax=axH)
axH.set_xlim(0, 88)
axH.set_ylim(0, 100)
axH.set_xticks([5, 26, 45, 76], labels=["\u221210$^{3}$", "0", "10$^{3}$", "10$^{4}$"], fontsize=4.6)
axH.set_yticks([])
axH.set(xlabel="", ylabel="")
axH.tick_params(axis="x", bottom=True, length=1.5, width=0.5, pad=1.5, color="#333333")
for side, col, lw in [("top", "#888888", 1.0), ("right", "#aaaaaa", 0.8), ("left", "#333333", 0.9), ("bottom", "#333333", 0.9)]:
    axH.spines[side].set_color(col)
    axH.spines[side].set_linewidth(lw)
txt(479, 1085, "% of max", size=7.6, rotation=90)
txt(531, 1143, "Mettl8-tdTomato", size=7.6)
for y, lab, col in zip([1040, 1053, 1066], GENOTYPES, ["black", "#1a1aff", "#e01010"]):
    hline(583, 594, y, col, lw=1.0)
    txt(600, y, lab, size=7.6, ha="left", color="#222222")

# ---------- K: reporter mean fluorescence ----------
axB = panel(667, 1041, 755, 1127)
mfi = pd.DataFrame({"genotype": ["+/+"] * len(MFI_WT) + ["m/+"] * len(MFI_HET) + ["m/m"] * len(MFI_HOM),
                    "mfi": MFI_WT + MFI_HET + MFI_HOM})
bar_colors = {"+/+": "black", "m/+": "#1a1aff", "m/m": "#f06060"}
point_colors = {"+/+": "black", "m/+": "#1a1aff", "m/m": "#e01010"}
sns.barplot(data=mfi, x="genotype", y="mfi", hue="genotype", palette=bar_colors, fill=False, width=0.66,
            errorbar="sd", capsize=0.3, err_kws={"linewidth": 0.8}, linewidth=1.1, legend=False, ax=axB)
sns.swarmplot(data=mfi, x="genotype", y="mfi", hue="genotype", palette=point_colors, size=2.8, legend=False, ax=axB)
axB.set_xlim(-0.504, 2.556)
axB.set_ylim(0, 8)
axB.set_yticks([0, 2, 4, 6, 8])
axB.set_xticks([0, 1, 2], labels=GENOTYPES, rotation=45, fontsize=7.2)
axB.set(xlabel="", ylabel="")
axB.tick_params(axis="both", bottom=True, left=True, length=2.5, width=0.9, pad=1.5, color="black", labelcolor="#222222")
axB.tick_params(axis="y", labelsize=8)
sns.despine(ax=axB)
axB.spines["left"].set_color("black")
axB.spines["bottom"].set_color("black")
axB.spines["left"].set_linewidth(1.0)
axB.spines["bottom"].set_linewidth(1.0)
txt(647, 1082, "MFI of tdTomato (\u00d710$^{2}$)", size=7.6, rotation=90)
for x0, x1, y in [(678, 739, 1035), (678, 705, 1051), (711, 738, 1051)]:
    hline(x0, x1, y, "#222222", lw=0.9)
    txt((x0 + x1) / 2, y - 3.5, "****", size=6.2, fontweight="bold", color="#222222")

# ---------- panel letters ----------
for x, y, letter in [(1, 8, "A"), (229, 8, "B"), (1, 196, "C"), (1, 642, "D"), (270, 642, "E"), (440, 642, "F"),
                     (1, 838, "G"), (294, 838, "H"), (437, 838, "I"), (1, 1018, "J"), (438, 1018, "K")]:
    txt(x, y, letter, size=12.5, ha="left", fontweight="bold", color="black")

canvas.set_xlim(0, W)
canvas.set_ylim(H, 0)
fig.savefig("out.png", dpi=100)
